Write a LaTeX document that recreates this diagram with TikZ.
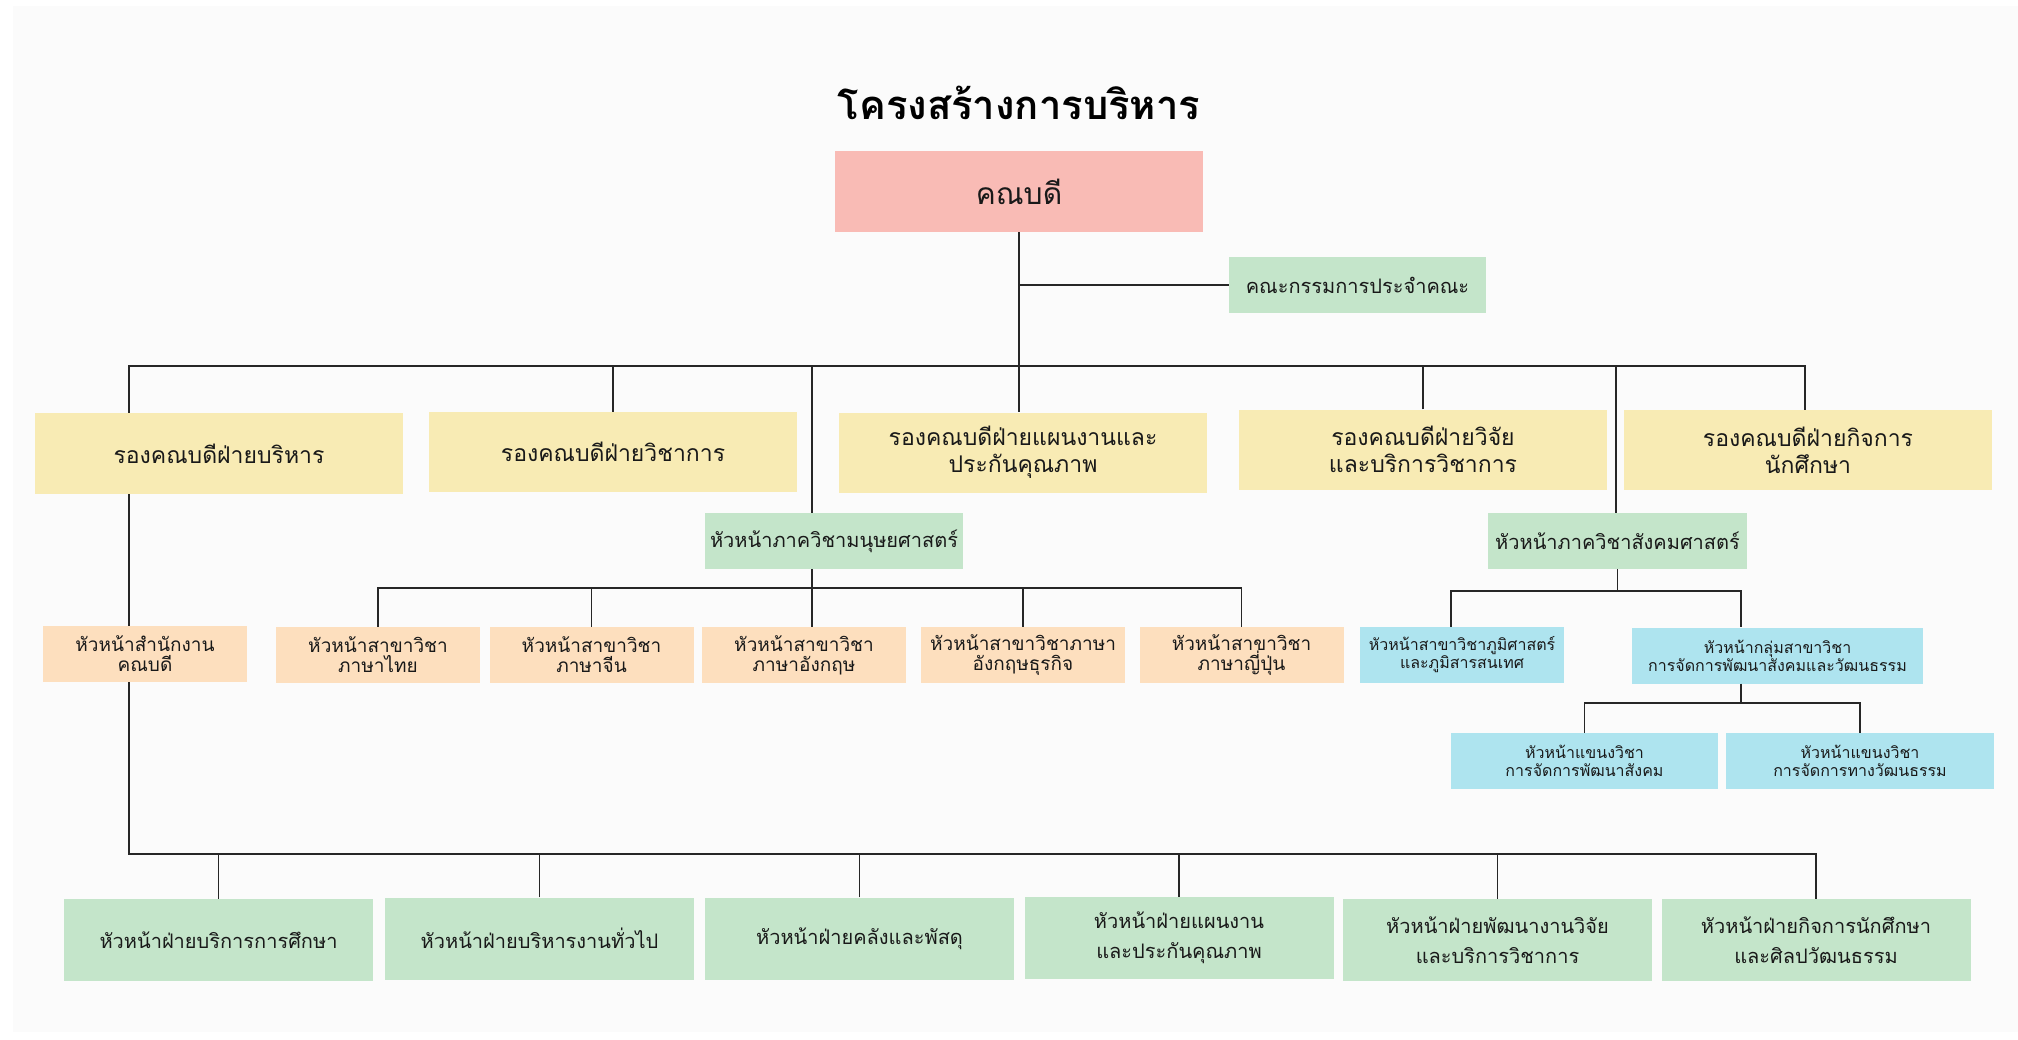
\documentclass[tikz,border=0pt]{standalone}
\usepackage{fontspec}
\usepackage{tikz}
\newfontfamily\thaifont[Script=Thai]{Loma}
\definecolor{canvas}{HTML}{FBFBFB}
\definecolor{deanpink}{HTML}{F9BBB5}
\definecolor{viceyellow}{HTML}{F8EBB4}
\definecolor{headgreen}{HTML}{C4E5CA}
\definecolor{unitpeach}{HTML}{FDDFBE}
\definecolor{unitblue}{HTML}{AEE4EF}

\tikzset{
  orgbox/.style={rectangle, inner sep=0pt, align=center, text=black!90},
  deanbox/.style={orgbox, fill=deanpink, minimum width=368pt, minimum height=81pt,
    font=\thaifont\fontsize{30}{34}\selectfont},
  vicebox/.style={orgbox, fill=viceyellow, minimum width=368pt, minimum height=80pt,
    font=\thaifont\fontsize{23}{27}\selectfont},
  headbox/.style={orgbox, fill=headgreen, minimum width=258pt, minimum height=56pt,
    font=\thaifont\fontsize{20}{23}\selectfont},
  peachbox/.style={orgbox, fill=unitpeach, minimum width=204pt, minimum height=56pt,
    font=\thaifont\fontsize{19}{20}\selectfont},
  bluebox/.style={orgbox, fill=unitblue, minimum height=56pt,
    font=\thaifont\fontsize{16}{18}\selectfont},
  workbox/.style={orgbox, fill=headgreen, minimum width=309pt, minimum height=82pt,
    font=\thaifont\fontsize{20}{30}\selectfont},
  link/.style={line width=1.8pt, black!85}
}

\begin{document}
\begin{tikzpicture}[x=1pt,y=-1pt]
\useasboundingbox (0,0) rectangle (2018,1039);
\fill[white] (0,0) rectangle (2018,1039);
\fill[canvas] (13,6) rectangle (2018,1032);

\node[font=\thaifont\bfseries\fontsize{40}{44}\selectfont] (title) at (1019,103) {โครงสร้างการบริหาร};
\node[deanbox] (dean) at (1019,191.5) {คณบดี};
\node[headbox, minimum width=257pt] (board) at (1357.5,285) {คณะกรรมการประจำคณะ};

\node[vicebox, minimum height=81pt] (vice1) at (219,453.5) {รองคณบดีฝ่ายบริหาร};
\node[vicebox] (vice2) at (613,452) {รองคณบดีฝ่ายวิชาการ};
\node[vicebox] (vice3) at (1023,452.5) {รองคณบดีฝ่ายแผนงานและ\\ประกันคุณภาพ};
\node[vicebox] (vice4) at (1423,449.5) {รองคณบดีฝ่ายวิจัย\\และบริการวิชาการ};
\node[vicebox] (vice5) at (1808,450) {รองคณบดีฝ่ายกิจการ\\นักศึกษา};

\node[headbox] (hum) at (834,541) {หัวหน้าภาควิชามนุษยศาสตร์};
\node[headbox, minimum width=259pt] (soc) at (1617.5,541) {หัวหน้าภาควิชาสังคมศาสตร์};

\node[peachbox] (office) at (145,654) {หัวหน้าสำนักงาน\\คณบดี};
\node[peachbox] (thai) at (378,655) {หัวหน้าสาขาวิชา\\ภาษาไทย};
\node[peachbox] (chinese) at (591.5,655) {หัวหน้าสาขาวิชา\\ภาษาจีน};
\node[peachbox] (english) at (804,655) {หัวหน้าสาขาวิชา\\ภาษาอังกฤษ};
\node[peachbox] (busenglish) at (1023,655) {หัวหน้าสาขาวิชาภาษา\\อังกฤษธุรกิจ};
\node[peachbox] (japanese) at (1241.5,655) {หัวหน้าสาขาวิชา\\ภาษาญี่ปุ่น};

\node[bluebox, minimum width=204pt] (geo) at (1462,655) {หัวหน้าสาขาวิชาภูมิศาสตร์\\และภูมิสารสนเทศ};
\node[bluebox, minimum width=291pt] (group) at (1777.5,655.5) {หัวหน้ากลุ่มสาขาวิชา\\การจัดการพัฒนาสังคมและวัฒนธรรม};
\node[bluebox, minimum width=267pt] (socdev) at (1584.5,761) {หัวหน้าแขนงวิชา\\การจัดการพัฒนาสังคม};
\node[bluebox, minimum width=268pt] (culture) at (1860,761) {หัวหน้าแขนงวิชา\\การจัดการทางวัฒนธรรม};

\node[workbox] (work1) at (218.5,940) {หัวหน้าฝ่ายบริการการศึกษา};
\node[workbox] (work2) at (539.5,938.5) {หัวหน้าฝ่ายบริหารงานทั่วไป};
\node[workbox] (work3) at (859.5,938.5) {หัวหน้าฝ่ายคลังและพัสดุ};
\node[workbox] (work4) at (1179,938) {หัวหน้าฝ่ายแผนงาน\\และประกันคุณภาพ};
\node[workbox] (work5) at (1497.5,940) {หัวหน้าฝ่ายพัฒนางานวิจัย\\และบริการวิชาการ};
\node[workbox] (work6) at (1816,940) {หัวหน้าฝ่ายกิจการนักศึกษา\\และศิลปวัฒนธรรม};

\coordinate (busL) at (129,366);
\coordinate (busR) at (1805,366);
\coordinate (humtop) at (812,366);
\coordinate (soctop) at (1616,366);
\coordinate (hbus) at (0,588);
\coordinate (sbus) at (0,591);
\coordinate (geotop) at (1451,591);
\coordinate (grouptop) at (1741,591);
\coordinate (gbus) at (0,703);
\coordinate (wbusL) at (129,854);
\coordinate (wbusR) at (1816,854);

\draw[link] (dean.south) -- (dean.south |- vice3.north);
\draw[link] (dean.south |- board) -- (board.west);
\draw[link] (busL |- vice1.north) -- (busL) -- (busR) -- (busR |- vice5.north);
\draw[link] (vice2.north) -- (vice2.north |- busL);
\draw[link] (vice4.north) -- (vice4.north |- busL);
\draw[link] (humtop) -- (humtop |- hum.north);
\draw[link] (soctop) -- (soctop |- soc.north);

\draw[link] (humtop |- hum.south) -- (humtop |- english.north);
\draw[link] (thai.north) -- (thai.north |- hbus) -| (japanese.north);
\draw[link] (chinese.north) -- (chinese.north |- hbus);
\draw[link] (busenglish.north) -- (busenglish.north |- hbus);

\draw[link] (soc.south) -- (soc.south |- sbus);
\draw[link] (geotop |- geo.north) -- (geotop) -- (grouptop) -- (grouptop |- group.north);
\draw[link] (group.south -| grouptop) -- (grouptop |- gbus);
\draw[link] (socdev.north) -- (socdev.north |- gbus) -| (culture.north);

\draw[link] (busL |- vice1.south) -- (busL |- office.north);
\draw[link] (busL |- office.south) -- (wbusL) -- (wbusR) -- (work6.north);
\draw[link] (work1.north) -- (work1.north |- wbusL);
\draw[link] (work2.north) -- (work2.north |- wbusL);
\draw[link] (work3.north) -- (work3.north |- wbusL);
\draw[link] (work4.north) -- (work4.north |- wbusL);
\draw[link] (work5.north) -- (work5.north |- wbusL);
\end{tikzpicture}
\end{document}
